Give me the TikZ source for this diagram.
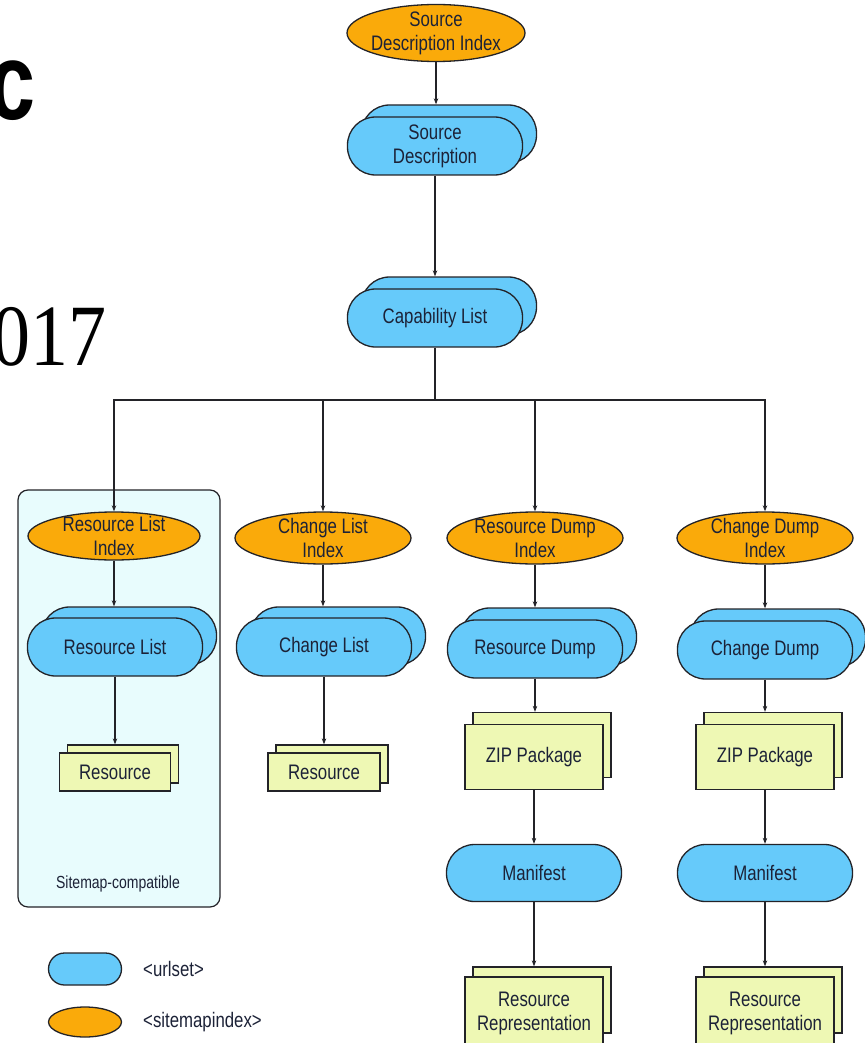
\documentclass[tikz,border=0pt]{standalone}
\usepackage{fontspec}
\usepackage{graphicx}
\setmainfont[FakeStretch=0.8]{Liberation Sans}
\newfontfamily\titleserif{Liberation Serif}
\newfontfamily\titlemono{Liberation Mono}
\usetikzlibrary{shapes.geometric,arrows.meta}

\definecolor{urlblue}{RGB}{102,202,250}
\definecolor{smiorange}{RGB}{250,170,10}
\definecolor{resgreen}{RGB}{238,248,180}
\definecolor{groupfill}{RGB}{232,252,253}
\definecolor{linec}{RGB}{35,35,40}
\definecolor{txt}{RGB}{28,34,55}

\newcommand\dgfont{\fontsize{21}{24}\selectfont}
\newcommand\smallfont{\fontsize{17.5}{20}\selectfont}

\begin{document}
\begin{tikzpicture}[x=1pt,y=-1pt,
  base/.style={draw=linec, line width=1.3pt, text=txt, font=\dgfont, align=center},
  urlset/.style={base, rectangle, rounded corners=28pt, fill=urlblue,
    minimum width=175pt, minimum height=58pt, inner sep=2pt},
  smi/.style={base, ellipse, fill=smiorange, minimum width=176pt,
    minimum height=52pt, inner sep=-5pt},
  res/.style={base, rectangle, fill=resgreen, inner sep=2pt},
  group/.style={draw=linec, line width=1.2pt, fill=groupfill, rounded corners=10pt},
  arr/.style={draw=linec, line width=1.1pt, -{Stealth[length=6pt,width=4.5pt]}},
  link/.style={draw=linec, line width=1.1pt}
]
\useasboundingbox (0,0) rectangle (864,1043);

% title fragments at the left edge
\node[anchor=base east, inner sep=0pt] (ttlc) at (38,120)
  {\scalebox{1}[1.3]{\titlemono\bfseries\fontsize{84}{84}\selectfont c}};
\node[anchor=base east, inner sep=0pt] (ttly) at (107,365)
  {\scalebox{1}[1.15]{\titleserif\fontsize{76}{76}\selectfont 2017}};

% sitemap-compatible group
\node[group, minimum width=202pt, minimum height=417pt] (smc) at (119,698.5) {};
\node[text=txt, font=\smallfont, inner sep=0pt] (smcl) at (118,884) {Sitemap-compatible};

% top column
\node[smi, minimum width=178pt, minimum height=57pt] (sdi) at (436,33) {Source\\Description Index};
\node[urlset] (sdB) at (449,134) {};
\node[urlset] (sd) at (435,146) {Source\\Description};
\node[urlset] (clB) at (449,306) {};
\node[urlset] (cl) at (435,318) {Capability List};
\coordinate (hub) at (435,400);

% column 1: resource list
\node[smi, minimum width=172pt, minimum height=48pt] (rli) at (114,536) {Resource List\\Index};
\node[urlset] (rlB) at (129,636) {};
\node[urlset] (rl) at (115,647) {Resource List};
\node[res, minimum width=111pt, minimum height=38pt] (r1B) at (123,764) {};
\node[res, minimum width=111pt, minimum height=38pt] (r1) at (115,772) {Resource};

% column 2: change list
\node[smi] (cli) at (323,538) {Change List\\Index};
\node[urlset] (clsB) at (338,636) {};
\node[urlset] (cls) at (324,647) {Change List};
\node[res, minimum width=112pt, minimum height=38pt] (r2B) at (332,764) {};
\node[res, minimum width=112pt, minimum height=38pt] (r2) at (324,772) {Resource};

% column 3: resource dump
\node[smi] (rdi) at (535,538) {Resource Dump\\Index};
\node[urlset] (rdB) at (549,637) {};
\node[urlset] (rd) at (535,649) {Resource Dump};
\node[res, minimum width=138pt, minimum height=65pt] (z1B) at (542,745) {};
\node[res, minimum width=138pt, minimum height=65pt] (z1) at (534,757) {ZIP Package};
\node[urlset, minimum height=57pt] (m1) at (534,873) {Manifest};
\node[res, minimum width=138pt, minimum height=66pt] (rr1B) at (542,1000) {};
\node[res, minimum width=138pt, minimum height=72pt] (rr1) at (534,1013) {Resource\\Representation};

% column 4: change dump
\node[smi] (cdi) at (765,538) {Change Dump\\Index};
\node[urlset] (cdB) at (778,638) {};
\node[urlset] (cd) at (765,650) {Change Dump};
\node[res, minimum width=138pt, minimum height=65pt] (z2B) at (773,745) {};
\node[res, minimum width=138pt, minimum height=65pt] (z2) at (765,757) {ZIP Package};
\node[urlset, minimum height=57pt] (m2) at (765,873) {Manifest};
\node[res, minimum width=138pt, minimum height=66pt] (rr2B) at (773,1000) {};
\node[res, minimum width=138pt, minimum height=72pt] (rr2) at (765,1013) {Resource\\Representation};

% legend
\node[base, rectangle, rounded corners=16pt, fill=urlblue, minimum width=73pt, minimum height=32pt] (lg1) at (85,969) {};
\node[anchor=west, text=txt, font=\dgfont, inner sep=0pt] (lg1t) at (143,969) {<urlset>};
\node[base, ellipse, fill=smiorange, minimum width=73pt, minimum height=30pt, inner sep=0pt] (lg2) at (85,1022) {};
\node[anchor=west, text=txt, font=\dgfont, inner sep=0pt] (lg2t) at (143,1022) {<sitemapindex>};

% connectors
\draw[arr] (sdi.south) -- (sdi.south |- sdB.north);
\draw[arr] (sd.south) -- (sd.south |- clB.north);
\draw[link] (cl.south) -- (hub);
\foreach \n in {rli,cli,rdi,cdi} \draw[arr] (hub) -| (\n.north);

\draw[arr] (rli.south) -- (rli.south |- rlB.north);
\draw[arr] (rl.south) -- (rl.south |- r1B.north);

\draw[arr] (cli.south) -- (cli.south |- clsB.north);
\draw[arr] (cls.south) -- (cls.south |- r2B.north);

\draw[arr] (rdi.south) -- (rdi.south |- rdB.north);
\draw[arr] (rd.south) -- (rd.south |- z1B.north);
\draw[arr] (z1.south) -- (m1.north);
\draw[arr] (m1.south) -- (m1.south |- rr1B.north);

\draw[arr] (cdi.south) -- (cdi.south |- cdB.north);
\draw[arr] (cd.south) -- (cd.south |- z2B.north);
\draw[arr] (z2.south) -- (m2.north);
\draw[arr] (m2.south) -- (m2.south |- rr2B.north);
\end{tikzpicture}
\end{document}
